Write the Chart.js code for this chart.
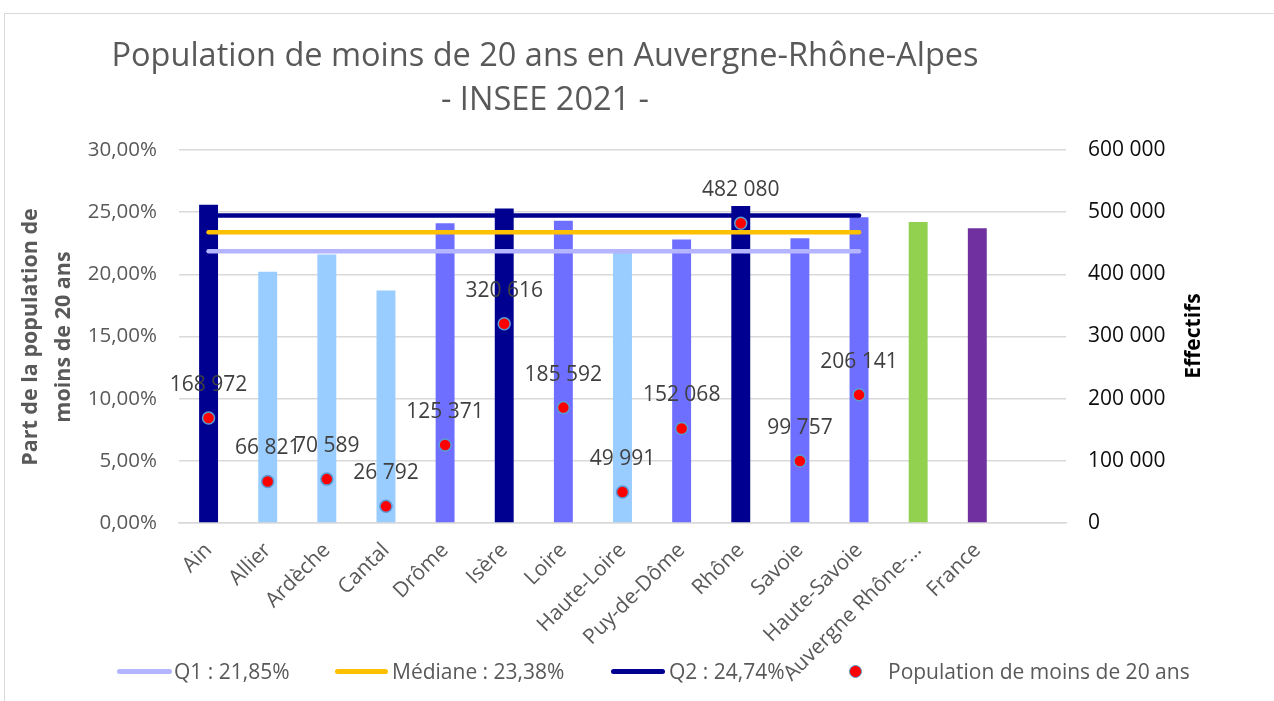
<!DOCTYPE html>
<html lang="fr">
<head>
<meta charset="utf-8">
<title>Population de moins de 20 ans en Auvergne-Rhône-Alpes</title>
<script src="https://cdn.jsdelivr.net/npm/chart.js@4.4.1/dist/chart.umd.min.js"></script>
<style>
    html, body { margin: 0; padding: 0; background: #fff; overflow: hidden; }
    #frame { position: absolute; left: 4px; top: 13px; width: 1300px; height: 720px; border: 1px solid #d9d9d9; }
    #wrap { position: absolute; left: 0; top: 0; width: 1274px; height: 701px; }
    .legend { position: absolute; top: 657px; height: 28px; font-family: "Open Sans", sans-serif; font-size: 21px; color: #595959; line-height: 28px; white-space: nowrap; }
    .sw { position: absolute; top: 12px; height: 5px; border-radius: 3px; }
    .dot { position: absolute; top: 8px; width: 11px; height: 11px; border-radius: 50%; background: #ff0000; border: 1.5px solid #5b9bd5; }
</style>
</head>
<body>
<div id="frame"></div>
<div id="wrap"><canvas id="chart" width="1274" height="701"></canvas></div>
<div class="legend" style="left:117px"><span class="sw" style="left:0;width:55px;background:#b4b4ff"></span><span style="position:absolute;left:57px">Q1 : 21,85%</span></div>
<div class="legend" style="left:335px"><span class="sw" style="left:0;width:53px;background:#ffc000"></span><span style="position:absolute;left:57px">Médiane : 23,38%</span></div>
<div class="legend" style="left:611px"><span class="sw" style="left:0;width:54px;background:#000090"></span><span style="position:absolute;left:58px">Q2 : 24,74%</span></div>
<div class="legend" style="left:849px"><span class="dot" style="left:0"></span><span style="position:absolute;left:39px">Population de moins de 20 ans</span></div>
<script>
// categories (the last one is an empty slot, like in the Excel sheet)
const categories = ['Ain', 'Allier', 'Ardèche', 'Cantal', 'Drôme', 'Isère', 'Loire', 'Haute-Loire',
    'Puy-de-Dôme', 'Rhône', 'Savoie', 'Haute-Savoie', 'Auvergne Rhône-Alpes', 'France', ''];

// part des moins de 20 ans (%)
const shares = [25.6, 20.2, 21.6, 18.7, 24.1, 25.3, 24.3, 21.9, 22.8, 25.5, 22.9, 24.6, 24.2, 23.7, null];

// effectifs des moins de 20 ans
const population = [168972, 66821, 70589, 26792, 125371, 320616, 185592, 49991, 152068, 482080, 99757, 206141, null, null, null];

// quartiles
const q1Line = [21.85, 21.85, 21.85, 21.85, 21.85, 21.85, 21.85, 21.85, 21.85, 21.85, 21.85, 21.85, null, null, null];
const medianLine = [23.38, 23.38, 23.38, 23.38, 23.38, 23.38, 23.38, 23.38, 23.38, 23.38, 23.38, 23.38, null, null, null];
const q2Line = [24.74, 24.74, 24.74, 24.74, 24.74, 24.74, 24.74, 24.74, 24.74, 24.74, 24.74, 24.74, null, null, null];

const barColors = ['#000090', '#99ccff', '#99ccff', '#99ccff', '#6f6fff', '#000090', '#6f6fff', '#99ccff',
    '#6f6fff', '#000090', '#6f6fff', '#6f6fff', '#92d050', '#7030a0', '#ffffff'];

const leftTicks = [0, 5, 10, 15, 20, 25, 30];
const rightTicks = [0, 100000, 200000, 300000, 400000, 500000, 600000];

const FONT = '"Open Sans", sans-serif';
const GREY = '#595959';

function fmtThousands(v) {
    return String(v).replace(/\B(?=(\d{3})+(?!\d))/g, ' ');
}

// titles + labels of the points
const extraText = {
    id: 'extraText',
    afterDatasetsDraw(chart) {
        const ctx = chart.ctx;
        const meta = chart.getDatasetMeta(4);
        ctx.save();
        ctx.font = '21px ' + FONT;
        ctx.fillStyle = '#404040';
        ctx.textAlign = 'center';
        ctx.textBaseline = 'middle';
        meta.data.forEach((pt, i) => {
            if (population[i] == null) return;
            ctx.fillText(fmtThousands(population[i]), pt.x, pt.y - 33);
        });
        ctx.restore();
    },
    afterDraw(chart) {
        const ctx = chart.ctx;
        ctx.save();
        ctx.fillStyle = GREY;
        ctx.textAlign = 'center';
        ctx.textBaseline = 'middle';
        ctx.font = '32.5px ' + FONT;
        ctx.fillText('Population de moins de 20 ans en Auvergne-Rhône-Alpes', 545, 57);
        ctx.fillText('- INSEE 2021 -', 545, 101);

        ctx.font = 'bold 21.5px ' + FONT;
        ctx.translate(31, 337);
        ctx.rotate(-Math.PI / 2);
        ctx.fillText('Part de la population de', 0, 0);
        ctx.fillText('moins de 20 ans', 0, 33);
        ctx.restore();

        ctx.save();
        ctx.fillStyle = '#000';
        ctx.font = 'bold 21px ' + FONT;
        ctx.textAlign = 'center';
        ctx.textBaseline = 'middle';
        ctx.translate(1194, 336);
        ctx.rotate(-Math.PI / 2);
        ctx.fillText('Effectifs', 0, 0);
        ctx.restore();
    }
};

function lineSet(label, data, color) {
    return {
        type: 'line',
        label: label,
        data: data,
        yAxisID: 'y',
        borderColor: color,
        backgroundColor: color,
        borderWidth: 4.5,
        borderCapStyle: 'round',
        pointRadius: 0,
        pointHoverRadius: 0,
        fill: false,
        order: 2
    };
}

new Chart(document.getElementById('chart'), {
    data: {
        labels: categories,
        datasets: [
            {
                type: 'bar',
                label: 'Part',
                data: shares,
                yAxisID: 'y',
                backgroundColor: barColors,
                barPercentage: 0.32,
                categoryPercentage: 1,
                order: 3
            },
            lineSet('Q1 : 21,85%', q1Line, '#b4b4ff'),
            lineSet('Médiane : 23,38%', medianLine, '#ffc000'),
            lineSet('Q2 : 24,74%', q2Line, '#000090'),
            {
                type: 'line',
                label: 'Population de moins de 20 ans',
                data: population,
                yAxisID: 'y2',
                showLine: false,
                pointRadius: 6,
                pointBackgroundColor: '#ff0000',
                pointBorderColor: '#5b9bd5',
                pointBorderWidth: 1.5,
                order: 1
            }
        ]
    },
    options: {
        responsive: false,
        animation: false,
        layout: { padding: { top: 150, bottom: 0, left: 0, right: 0 } },
        plugins: {
            legend: { display: false },
            title: { display: false },
            tooltip: { enabled: false }
        },
        scales: {
            x: {
                grid: { display: false },
                border: { color: '#d9d9d9', width: 1.5 },
                ticks: {
                    autoSkip: false,
                    maxRotation: 45,
                    minRotation: 45,
                    padding: 7,
                    color: GREY,
                    font: { family: FONT, size: 21 },
                    callback: function (v) {
                        const s = categories[v];
                        return s.length > 18 ? s.slice(0, 15) + '…' : s;
                    }
                },
                afterFit: (s) => { s.height = 178; }
            },
            y: {
                position: 'left',
                min: 0,
                max: 30,
                afterBuildTicks: (s) => { s.ticks = leftTicks.map(v => ({ value: v })); },
                grid: { color: '#d9d9d9', lineWidth: 1.5, drawTicks: false },
                border: { display: false },
                ticks: {
                    padding: 22,
                    color: GREY,
                    font: { family: FONT, size: 20.5 },
                    callback: (v) => v.toFixed(2).replace('.', ',') + '%'
                },
                afterFit: (s) => { s.width = 179; }
            },
            y2: {
                position: 'right',
                min: 0,
                max: 600000,
                afterBuildTicks: (s) => { s.ticks = rightTicks.map(v => ({ value: v })); },
                grid: { display: false, drawTicks: false },
                border: { display: false },
                ticks: {
                    padding: 22,
                    color: '#0d0d0d',
                    font: { family: FONT, size: 21 },
                    callback: (v) => fmtThousands(v)
                },
                afterFit: (s) => { s.width = 1274 - 1066; }
            }
        }
    },
    plugins: [extraText]
});
</script>
</body>
</html>
